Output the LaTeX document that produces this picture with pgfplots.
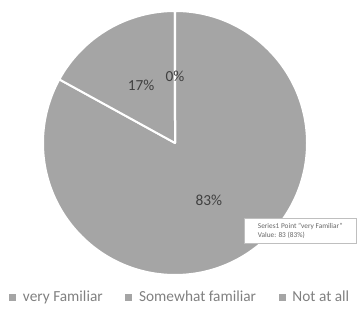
\documentclass[border=0pt]{standalone}
\usepackage{pgfplots}
\pgfplotsset{compat=1.18}
\usepackage{pgfplotstable}
\usetikzlibrary{calc}
\usepackage{fontspec}
\setmainfont{Carlito}
\definecolor{slicegray}{HTML}{A5A5A5}
\definecolor{labelgray}{HTML}{404040}
\definecolor{legendgray}{HTML}{808080}

\pgfplotstableread[col sep=comma]{
label,value
very Familiar,83
Somewhat familiar,17
Not at all,0
}\piedata
\pgfplotstablegetelem{0}{value}\of\piedata \pgfmathsetmacro\va{\pgfplotsretval}%
\pgfplotstablegetelem{1}{value}\of\piedata \pgfmathsetmacro\vb{\pgfplotsretval}%
\pgfplotstablegetelem{2}{value}\of\piedata \pgfmathsetmacro\vc{\pgfplotsretval}%
\pgfmathsetmacro\tot{\va+\vb+\vc}%
% Excel: start at top, clockwise
\pgfmathsetmacro\aA{90}%
\pgfmathsetmacro\aB{\aA-360*(\va/\tot)}%
\pgfmathsetmacro\aC{\aB-360*(\vb/\tot)}%
\pgfmathsetmacro\aD{\aC-360*(\vc/\tot)}%
\pgfmathsetmacro\mA{(\aA+\aB)/2}%
\pgfmathsetmacro\mB{(\aB+\aC)/2}%
\pgfmathsetmacro\mC{(\aC+\aD)/2}%
\pgfmathtruncatemacro\pA{round(100*(\va/\tot))}%
\pgfmathtruncatemacro\pB{round(100*(\vb/\tot))}%
\pgfmathtruncatemacro\pC{round(100*(\vc/\tot))}%

\begin{document}
\begin{tikzpicture}
\begin{axis}[
  x=0.75pt, y=0.75pt,
  xmin=0, xmax=357, ymin=0, ymax=320,
  hide axis, clip=false,
  legend style={at={(axis cs:9,23)}, anchor=west, draw=none, fill=none,
    inner sep=0pt, font=\fontsize{11.5}{13}\selectfont\color{legendgray},
    /tikz/every odd column/.append style={column sep=3.5pt},
    /tikz/every even column/.append style={column sep=15pt}},
  legend columns=3,
  legend image code/.code={\fill[slicegray] (0pt,-2.2pt) rectangle (4.4pt,2.2pt);},
]
\path (axis cs:0,0) rectangle (axis cs:357,320);
\fill[slicegray, draw=white, line width=1.5pt, line join=round]
  (axis cs:175,177) -- ++(\aA:99pt) arc[start angle=\aA, end angle=\aB, radius=99pt] -- cycle;
\fill[slicegray, draw=white, line width=1.5pt, line join=round]
  (axis cs:175,177) -- ++(\aB:99pt) arc[start angle=\aB, end angle=\aC, radius=99pt] -- cycle;
\draw[white, line width=1.5pt] (axis cs:175,177) -- ++(\aC:99pt);
\node[font=\fontsize{11.5}{13}\selectfont, text=labelgray] at ($(axis cs:175,177)+(\mA:50pt)$) {\pA\%};
\node[font=\fontsize{11.5}{13}\selectfont, text=labelgray] at ($(axis cs:175,177)+(\mB:50pt)$) {\pB\%};
\node[font=\fontsize{11.5}{13}\selectfont, text=labelgray] at ($(axis cs:175,177)+(\mC:50pt)$) {\pC\%};
\node[draw=black!25, fill=white, inner sep=2pt, align=left, anchor=north west,
  minimum width=84pt, minimum height=19pt, font=\fontsize{5.5}{6.5}\selectfont, text=black!60]
  at (axis cs:244,102) {Series1 Point "very Familiar"\\Value: 83 (83\%)};
\addlegendimage{}\addlegendentry{very Familiar}
\addlegendimage{}\addlegendentry{Somewhat familiar}
\addlegendimage{}\addlegendentry{Not at all}
\end{axis}
\end{tikzpicture}
\end{document}
